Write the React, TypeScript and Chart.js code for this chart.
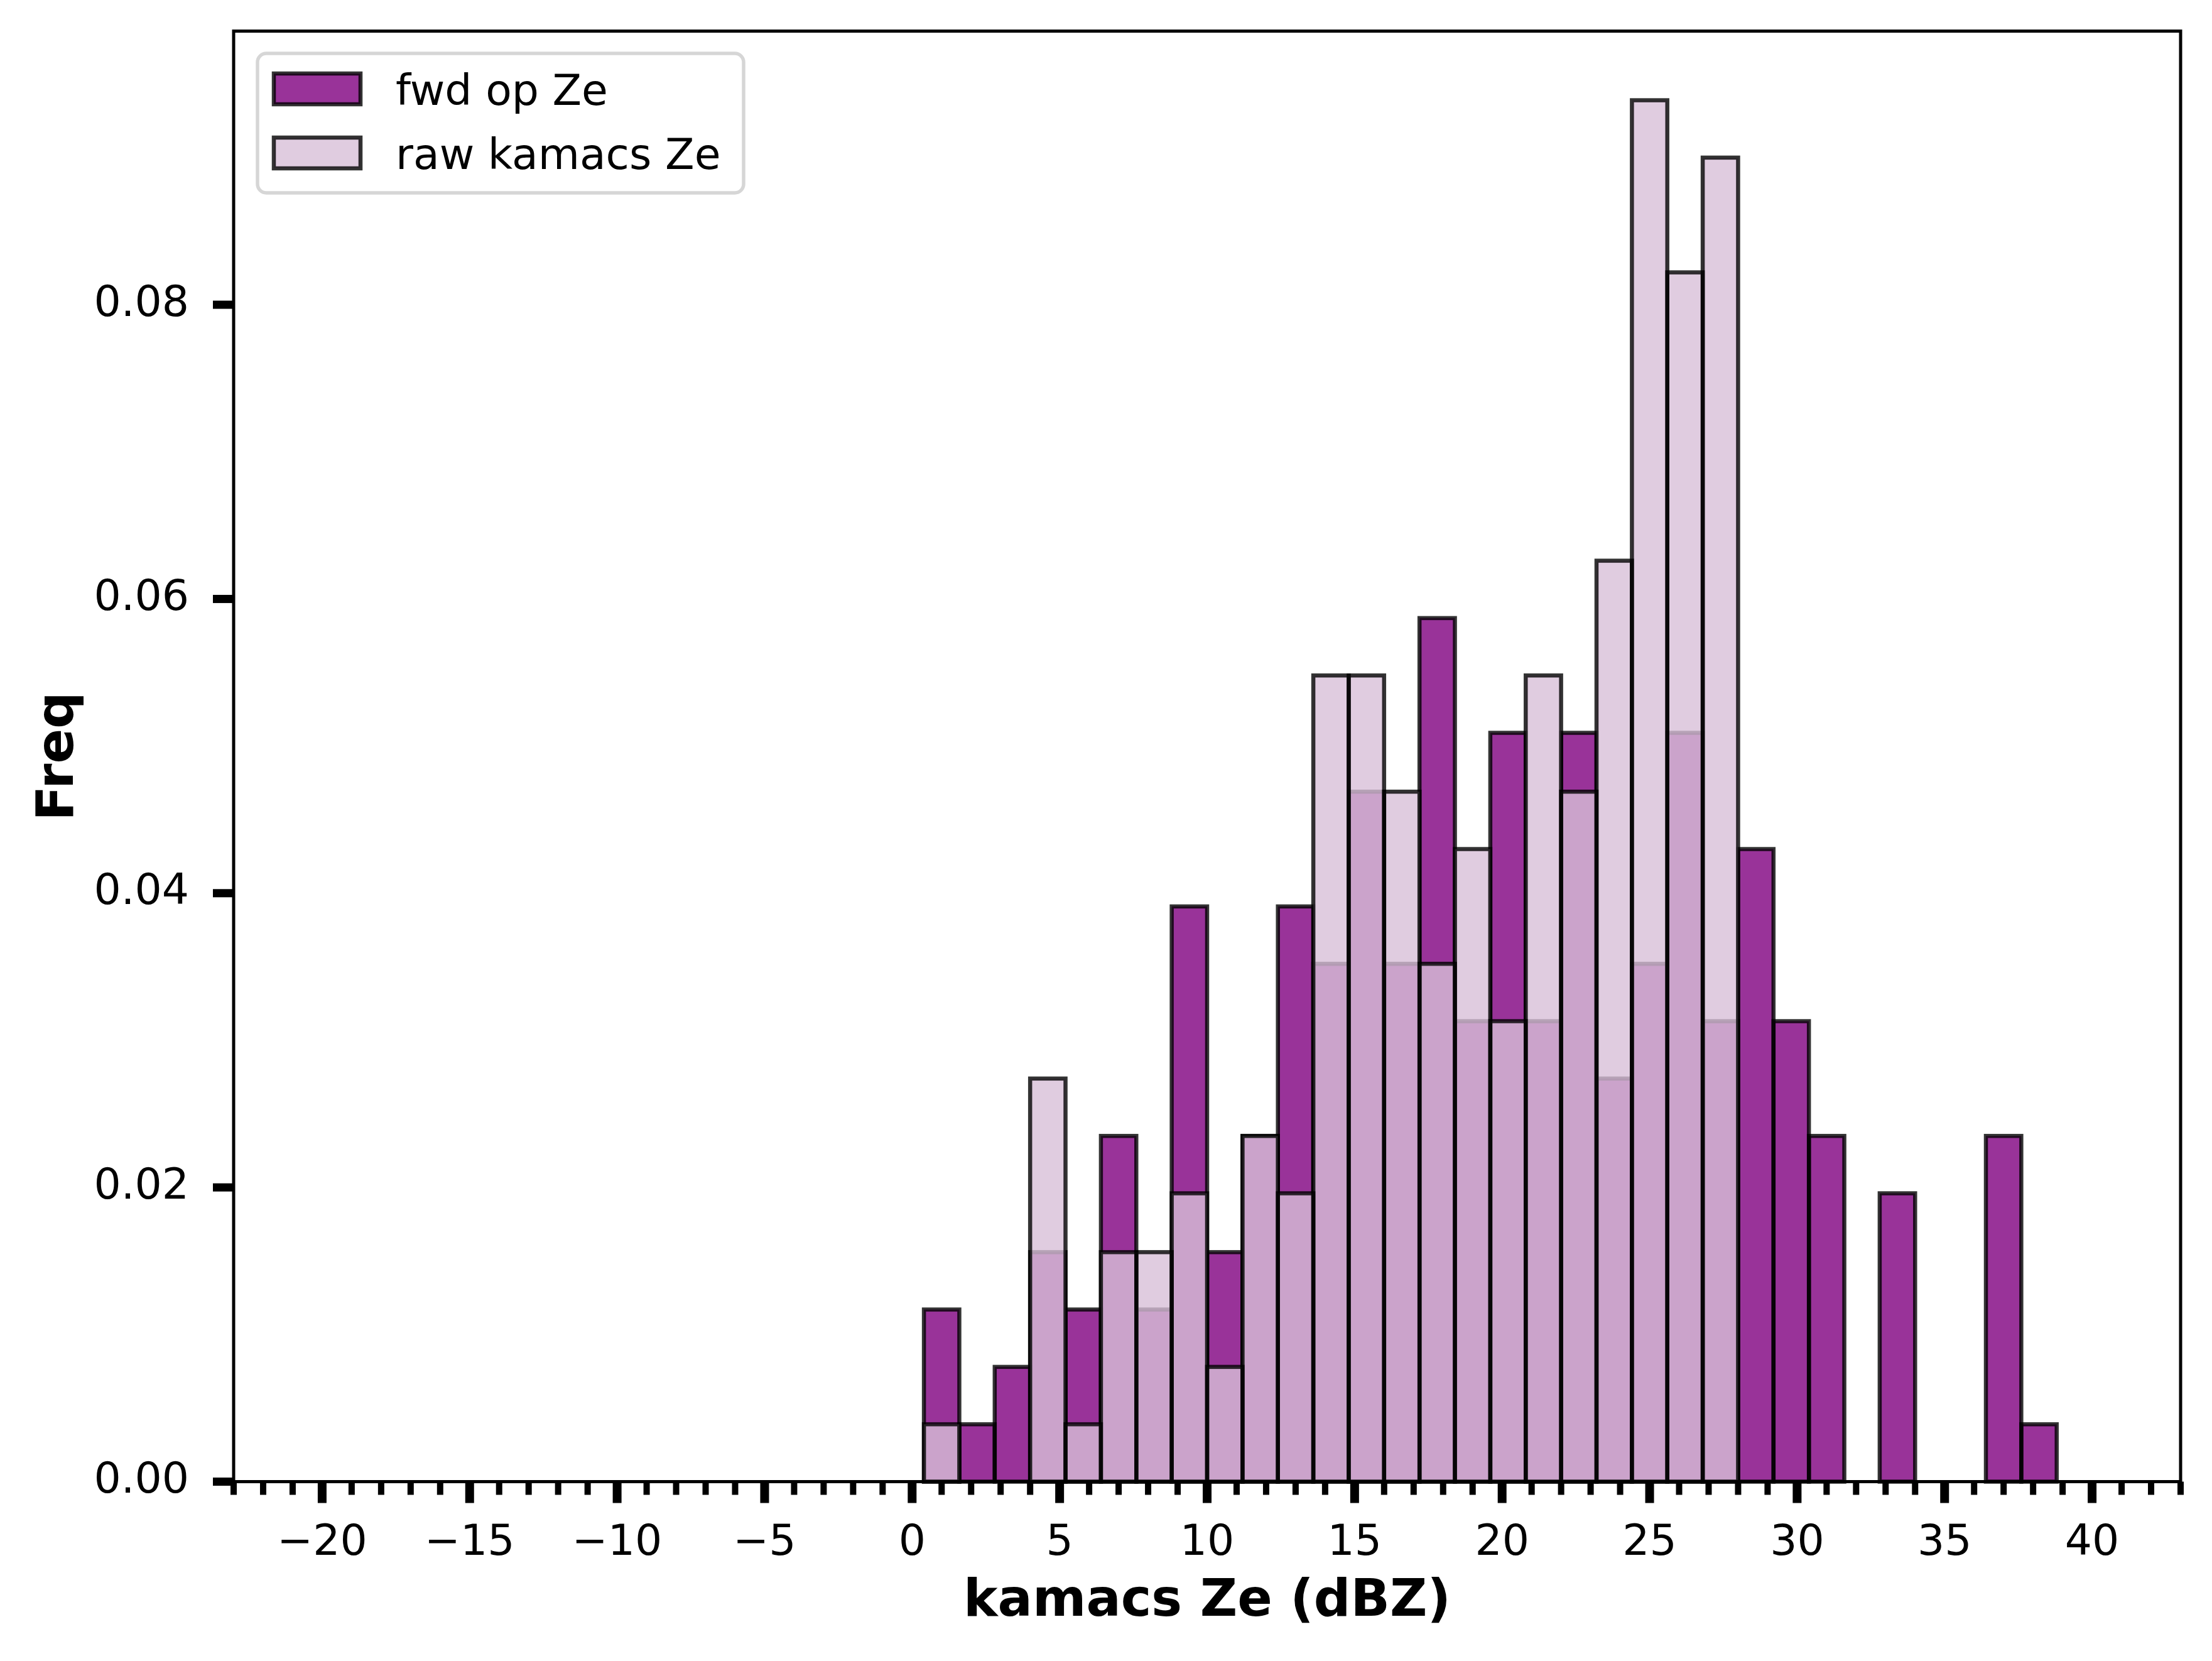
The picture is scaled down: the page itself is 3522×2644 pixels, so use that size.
import { useEffect, useRef } from 'react';
import { Chart, registerables } from 'chart.js';

Chart.register(...registerables);

// histogram bins (width 1.2 dBZ), values are densities
const binCenters = [
  1.0, 2.2, 3.4, 4.6, 5.8, 7.0, 8.2, 9.4, 10.6, 11.8, 13.0, 14.2, 15.4, 16.6, 17.8, 19.0,
  20.2, 21.4, 22.6, 23.8, 25.0, 26.2, 27.4, 28.6, 29.8, 31.0, 32.2, 33.4, 34.6, 35.8, 37.0, 38.2,
];
const fwdOpZe = [
  0.0117, 0.0039, 0.0078, 0.0156, 0.0117, 0.0235, 0.0117, 0.0391, 0.0156, 0.0235, 0.0391, 0.0352,
  0.0469, 0.0352, 0.0587, 0.0313, 0.0509, 0.0313, 0.0509, 0.0274, 0.0352, 0.0509, 0.0313, 0.043,
  0.0313, 0.0235, null, 0.0196, null, null, 0.0235, 0.0039,
];
const rawKamacsZe = [
  0.0039, null, null, 0.0274, 0.0039, 0.0156, 0.0156, 0.0196, 0.0078, 0.0235, 0.0196, 0.0548,
  0.0548, 0.0469, 0.0352, 0.043, 0.0313, 0.0548, 0.0469, 0.0626, 0.0939, 0.0822, 0.09, null,
  null, null, null, null, null, null, null, null,
];
const seriesLabels = ['fwd op Ze', 'raw kamacs Ze'];
const xMajorTicks = [-20, -15, -10, -5, 0, 5, 10, 15, 20, 25, 30, 35, 40];
const yTicks = [0, 0.02, 0.04, 0.06, 0.08];

const FWD_FILL = 'rgba(128, 0, 128, 0.8)';
const RAW_FILL = 'rgba(216, 191, 216, 0.8)';
const EDGE = 'rgba(0, 0, 0, 0.8)';
const FONT = '"DejaVu Sans", sans-serif';

const histPlugin = {
  id: 'histExtras',
  // matplotlib-like outlines centred on the bar edges
  afterDatasetDraw(chart: any, args: any) {
    const ds = chart.data.datasets[args.index];
    const ctx = chart.ctx;
    ctx.save();
    ctx.strokeStyle = EDGE;
    ctx.lineWidth = 6.5;
    args.meta.data.forEach((el: any, i: number) => {
      if (ds.data[i].y == null) return;
      const { x, y, base, width } = el.getProps(['x', 'y', 'base', 'width'], true);
      ctx.strokeRect(x - width / 2, y, width, base - y);
    });
    ctx.restore();
  },
  afterDraw(chart: any) {
    const { ctx, chartArea } = chart;
    const { left, right, top, bottom } = chartArea;
    const xs = chart.scales.x;
    const ys = chart.scales.y;
    ctx.save();

    // spines
    ctx.strokeStyle = '#000';
    ctx.lineWidth = 5;
    ctx.strokeRect(left, top, right - left, bottom - top);

    // ticks
    ctx.fillStyle = '#000';
    for (let v = Math.ceil(xs.min); v <= xs.max; v++) {
      const px = xs.getPixelForValue(v);
      if (xMajorTicks.includes(v)) ctx.fillRect(px - 7, bottom, 14, 34);
      else ctx.fillRect(px - 5, bottom, 10, 21);
    }
    yTicks.forEach((v) => {
      const py = ys.getPixelForValue(v);
      ctx.fillRect(left - 33, py - 6.5, 33, 13);
    });

    // legend
    const bx = 410, by = 85, bw = 774, bh = 222, r = 14;
    ctx.beginPath();
    ctx.moveTo(bx + r, by);
    ctx.arcTo(bx + bw, by, bx + bw, by + bh, r);
    ctx.arcTo(bx + bw, by + bh, bx, by + bh, r);
    ctx.arcTo(bx, by + bh, bx, by, r);
    ctx.arcTo(bx, by, bx + bw, by, r);
    ctx.closePath();
    ctx.fillStyle = 'rgba(255,255,255,0.8)';
    ctx.fill();
    ctx.strokeStyle = '#d6d6d6';
    ctx.lineWidth = 5.5;
    ctx.stroke();

    const fills = [FWD_FILL, RAW_FILL];
    const rows = [117, 219];
    ctx.font = `68px ${FONT}`;
    ctx.textBaseline = 'alphabetic';
    ctx.textAlign = 'left';
    seriesLabels.forEach((label, i) => {
      ctx.fillStyle = fills[i];
      ctx.fillRect(436, rows[i], 138, 49);
      ctx.strokeStyle = EDGE;
      ctx.lineWidth = 6.5;
      ctx.strokeRect(436, rows[i], 138, 49);
      ctx.fillStyle = '#000';
      ctx.fillText(label, 630, rows[i] + 50);
    });
    ctx.restore();
  },
};

function fmtX(v: number) {
  return v < 0 ? '\u2212' + Math.abs(v) : String(v);
}

export default function App() {
  const canvasRef = useRef<HTMLCanvasElement>(null);
  const chartRef = useRef<Chart | null>(null);

  useEffect(() => {
    if (!canvasRef.current) return;
    if (chartRef.current) chartRef.current.destroy();

    chartRef.current = new Chart(canvasRef.current, {
      type: 'bar',
      data: {
        datasets: [
          {
            label: seriesLabels[0],
            data: binCenters.map((x, i) => ({ x, y: fwdOpZe[i] })) as any,
            backgroundColor: FWD_FILL,
            borderWidth: 0,
            order: 1,
          },
          {
            label: seriesLabels[1],
            data: binCenters.map((x, i) => ({ x, y: rawKamacsZe[i] })) as any,
            backgroundColor: RAW_FILL,
            borderWidth: 0,
            order: 0,
          },
        ],
      },
      options: {
        responsive: true,
        maintainAspectRatio: false,
        devicePixelRatio: 1,
        animation: false,
        grouped: false,
        barPercentage: 1,
        categoryPercentage: 1,
        inflateAmount: 0,
        layout: { padding: { left: 0, right: 50, top: 49.5, bottom: 0 } },
        plugins: {
          legend: { display: false },
          tooltip: { enabled: false },
        },
        scales: {
          x: {
            type: 'linear',
            min: -23,
            max: 43,
            offset: false,
            grid: { display: false },
            border: { display: false },
            afterBuildTicks: (scale: any) => {
              scale.ticks = xMajorTicks.map((value) => ({ value }));
            },
            afterFit: (scale: any) => {
              scale.height = 285.5;
              scale.paddingLeft = 0;
              scale.paddingRight = 0;
            },
            ticks: {
              autoSkip: false,
              maxRotation: 0,
              padding: 50,
              color: '#000',
              font: { family: FONT, size: 68 },
              callback: (v: any) => fmtX(Number(v)),
            },
            title: {
              display: true,
              text: 'kamacs Ze (dBZ)',
              color: '#000',
              font: { family: FONT, size: 82, weight: 'bold' },
              padding: { top: 0, bottom: 44 },
            },
          },
          y: {
            type: 'linear',
            min: 0,
            max: 0.0986,
            grid: { display: false },
            border: { display: false },
            afterBuildTicks: (scale: any) => {
              scale.ticks = yTicks.map((value) => ({ value }));
            },
            afterFit: (scale: any) => {
              scale.width = 372;
              scale.paddingTop = 0;
              scale.paddingBottom = 0;
            },
            ticks: {
              padding: 63,
              color: '#000',
              font: { family: FONT, size: 68 },
              callback: (v: any) => Number(v).toFixed(2),
            },
            title: {
              display: true,
              text: 'Freq',
              color: '#000',
              font: { family: FONT, size: 82, weight: 'bold' },
              padding: { top: 46, bottom: 0 },
            },
          },
        },
      } as any,
      plugins: [histPlugin],
    });

    return () => {
      if (chartRef.current) {
        chartRef.current.destroy();
        chartRef.current = null;
      }
    };
  }, []);

  return (
    <div style={{ position: 'fixed', left: 0, top: 0, width: 3522, height: 2644, background: '#fff' }}>
      <canvas ref={canvasRef} />
    </div>
  );
}
